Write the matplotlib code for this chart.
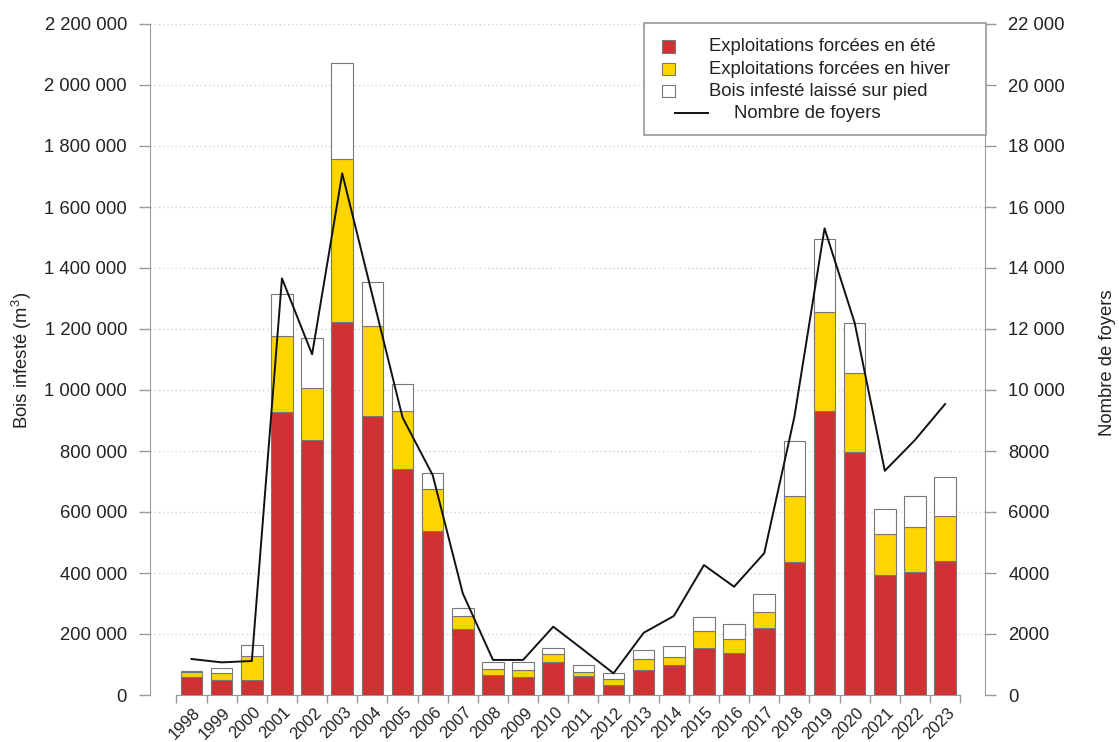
import matplotlib
matplotlib.use("Agg")
import matplotlib.pyplot as plt
from matplotlib.patches import Rectangle
from matplotlib.lines import Line2D
import numpy as np

plt.rcParams['font.family'] = ['Liberation Sans', 'DejaVu Sans']
plt.rcParams['mathtext.fontset'] = 'custom'
plt.rcParams['mathtext.rm'] = 'Liberation Sans'
plt.rcParams['mathtext.it'] = 'Liberation Sans:italic'

years = [str(y) for y in range(1998, 2024)]
ete = [58000, 49000, 49000, 929000, 836000, 1222000, 915000, 741000, 539000, 215000,
       66000, 60000, 107000, 62000, 33000, 82000, 98000, 153000, 137000, 221000,
       435000, 931000, 796000, 393000, 404000, 439000]
hiver = [18000, 22000, 79000, 249000, 170000, 534000, 296000, 191000, 136000, 44000,
         19000, 22000, 27000, 14000, 18000, 36000, 28000, 57000, 46000, 52000,
         219000, 326000, 259000, 134000, 148000, 149000]
sur_pied = [3000, 16000, 37000, 136000, 166000, 315000, 142000, 87000, 54000, 27000,
            22000, 26000, 19000, 24000, 22000, 30000, 36000, 45000, 49000, 57000,
            179000, 237000, 164000, 82000, 102000, 128000]
foyers = [1180, 1070, 1115, 13660, 11170, 17100, 13100, 9100, 7210, 3330,
          1150, 1150, 2240, 1480, 710, 2040, 2590, 4260, 3550, 4650,
          9120, 15300, 12200, 7350, 8360, 9540]

left_ticks = list(range(0, 2200001, 200000))
right_ticks = list(range(0, 22001, 2000))

def fmt(v):
    s = f"{v:,}".replace(",", " ")
    if 1000 <= v < 10000:
        s = str(v)
    return s

W, H = 1119, 742
fig = plt.figure(figsize=(W / 100, H / 100), dpi=100)
ax = fig.add_axes([150 / W, (H - 695) / H, (985.5 - 150) / W, (695 - 24) / H])

RED = '#D03132'
YEL = '#FFD500'
EDGE = '#777777'
SP = '#9a9a9a'
FS = 13.3
TXT = '#222222'

x = np.arange(len(years))
bw = 0.717
ete_a = np.array(ete)
hiv_a = np.array(hiver)
sp_a = np.array(sur_pied)
ax.bar(x, ete_a, width=bw, color=RED, edgecolor=EDGE, linewidth=0.8, zorder=3)
ax.bar(x, hiv_a, width=bw, bottom=ete_a, color=YEL, edgecolor=EDGE, linewidth=0.8, zorder=3)
ax.bar(x, sp_a, width=bw, bottom=ete_a + hiv_a, color='white', edgecolor=EDGE, linewidth=0.8, zorder=3)

ax.set_xlim(-1.378, 26.34)
ax.set_ylim(0, 2200000)
ax.set_yticks(left_ticks)
ax.set_yticklabels([fmt(v) for v in left_ticks], fontsize=FS, color=TXT)
for v in left_ticks[1:]:
    ax.axhline(v, color='#d4d4d4', linewidth=1.0, linestyle=(0, (1, 2)), zorder=1)

ax.set_xticks(np.arange(-0.5, len(years), 1.0))
ax.set_xticklabels([])
ax.tick_params(axis='x', length=6, width=1, color=SP)
ax.tick_params(axis='y', length=8, width=1, color=SP, pad=8.5)
for i, lab in enumerate(years):
    ax.annotate(lab, xy=(i, 0), xycoords=('data', 'axes fraction'),
                xytext=(1, -7), textcoords='offset points',
                ha='right', va='top', rotation=45, rotation_mode='anchor',
                fontsize=12, color=TXT)

ax.spines['top'].set_visible(False)
ax.spines['right'].set_visible(False)
ax.spines['left'].set_color(SP)
ax.spines['bottom'].set_color(SP)
ax.spines['bottom'].set_bounds(-0.5, len(years) - 0.5)

ax2 = ax.twinx()
ax2.plot(x, foyers, color='#111111', linewidth=1.4, zorder=5)
ax2.set_ylim(0, 22000)
ax2.set_yticks(right_ticks)
ax2.set_yticklabels([fmt(v) for v in right_ticks], fontsize=FS, color=TXT)
ax2.tick_params(axis='y', length=8, width=1, color=SP, pad=8.5)
for s in ['top', 'left', 'bottom']:
    ax2.spines[s].set_visible(False)
ax2.spines['right'].set_color(SP)

def fx(px):
    return px / W

def fy(py):
    return (H - py) / H

fig.text(fx(22), fy(360), 'Bois infesté (m$^3$)', rotation=90, ha='center', va='center',
         fontsize=FS, color=TXT)
fig.text(fx(1108), fy(363), 'Nombre de foyers', rotation=90, ha='center', va='center',
         fontsize=FS, color=TXT)

# legend drawn manually
fig.add_artist(Rectangle((fx(644), fy(135)), fx(985.5) - fx(644), fy(23) - fy(135),
                         transform=fig.transFigure, facecolor='white', edgecolor=SP,
                         linewidth=1.2, zorder=10))
rows = [46.5, 69, 91.3, 113.3]
labels = ['Exploitations forcées en été', 'Exploitations forcées en hiver',
          'Bois infesté laissé sur pied', 'Nombre de foyers']
fills = [RED, YEL, 'white']
for r, c in zip(rows[:3], fills):
    fig.add_artist(Rectangle((fx(662), fy(r + 6)), fx(675) - fx(662), fy(r - 6) - fy(r + 6),
                             transform=fig.transFigure, facecolor=c, edgecolor=EDGE,
                             linewidth=0.8, zorder=11))
fig.add_artist(Line2D([fx(675), fx(708)], [fy(rows[3]), fy(rows[3])],
                      transform=fig.transFigure, color='#111111', linewidth=1.4, zorder=11))
for i, (r, t) in enumerate(zip(rows, labels)):
    fig.text(fx(709 if i < 3 else 734), fy(r), t, fontsize=FS, color=TXT,
             ha='left', va='center', zorder=12)

fig.savefig('out.png', dpi=100)
